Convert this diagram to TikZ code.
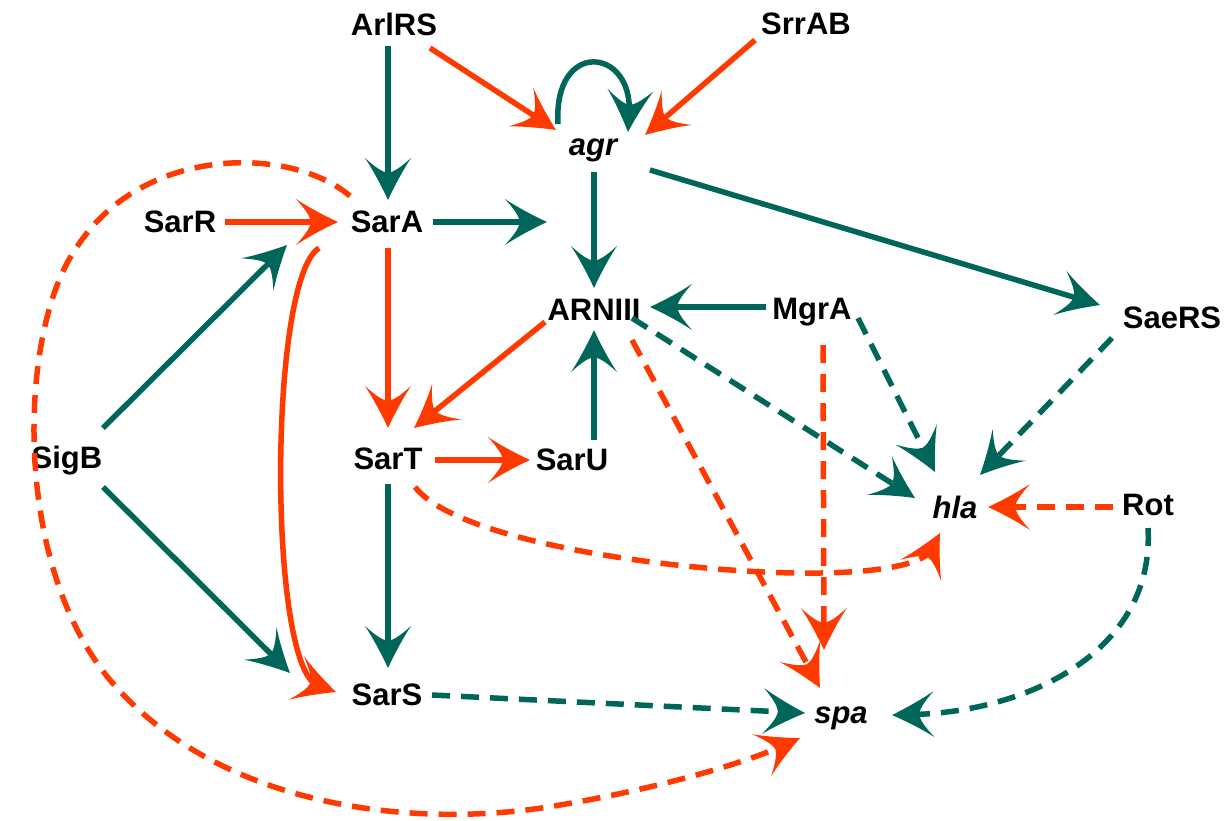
\documentclass[tikz,border=0pt]{standalone}
\usepackage{fontspec}
\setmainfont{Liberation Sans}
\usetikzlibrary{arrows.meta}
\definecolor{tealc}{RGB}{0,102,90}
\definecolor{orangec}{RGB}{255,58,0}
\pgfdeclarearrow{
  name=Curvy,
  setup code={
    \pgfarrowssettipend{0pt}
    \pgfarrowssetbackend{-42pt}
    \pgfarrowssetlineend{-19pt}
    \pgfarrowsupperhullpoint{0pt}{0pt}
    \pgfarrowsupperhullpoint{-42pt}{23pt}
  },
  drawing code={
    \pgfpathmoveto{\pgfqpoint{0pt}{0pt}}
    \pgfpathcurveto{\pgfqpoint{-14pt}{6.5pt}}{\pgfqpoint{-30pt}{15pt}}{\pgfqpoint{-42pt}{23pt}}
    \pgfpathcurveto{\pgfqpoint{-33pt}{13pt}}{\pgfqpoint{-28pt}{6pt}}{\pgfqpoint{-27pt}{0pt}}
    \pgfpathcurveto{\pgfqpoint{-28pt}{-6pt}}{\pgfqpoint{-33pt}{-13pt}}{\pgfqpoint{-42pt}{-23pt}}
    \pgfpathcurveto{\pgfqpoint{-30pt}{-15pt}}{\pgfqpoint{-14pt}{-6.5pt}}{\pgfqpoint{0pt}{0pt}}
    \pgfpathclose
    \pgfusepathqfill
  }
}
\begin{document}
\begin{tikzpicture}[x=1pt,y=-1pt,
  lbl/.style={font=\fontsize{31}{37}\selectfont\bfseries, inner sep=0pt, outer sep=0pt, anchor=base},
  ilbl/.style={lbl, font=\fontsize{31}{37}\selectfont\bfseries\itshape},
  tipa/.style={-{Curvy}},
  tl/.style={draw=tealc, line width=5.5pt, tipa},
  ol/.style={draw=orangec, line width=5.5pt, tipa},
  dsh/.style={dash pattern=on 18pt off 11pt}
]
\useasboundingbox[fill=white] (0,0) rectangle (1232,820);

% nodes
\node[lbl] (ArlRS) at (394,35) {ArlRS};
\node[lbl] (SrrAB) at (806,34) {SrrAB};
\node[ilbl] (agr) at (593,155) {agr};
\node[lbl] (SarR) at (180,232) {SarR};
\node[lbl] (SarA) at (387,232) {SarA};
\node[lbl] (ARN) at (594,320) {ARNIII};
\node[lbl] (MgrA) at (812,319) {MgrA};
\node[lbl] (SaeRS) at (1172,328) {SaeRS};
\node[lbl] (SigB) at (67,468) {SigB};
\node[lbl] (SarT) at (388,469) {SarT};
\node[lbl] (SarU) at (572,470) {SarU};
\node[ilbl] (hla) at (955,518) {hla};
\node[lbl] (Rot) at (1148,515) {Rot};
\node[lbl] (SarS) at (387,705) {SarS};
\node[ilbl] (spa) at (841,723) {spa};
\coordinate (sarAout) at (547,222);

% solid teal
\draw[tl] ([shift={(-6,11)}]ArlRS.base) -- ([shift={(1,-32)}]SarA.base);
\draw[tl] ([shift={(-35,-31)}]agr.base) .. controls +(-5,-85) and +(5,-85) .. ([shift={(35,-23)}]agr.base);
\draw[tl] ([shift={(1,17)}]agr.base) -- ([shift={(0,-32)}]ARN.base);
\draw[tl] ([shift={(46,-10)}]SarA.base) -- (sarAout);
\draw[tl] ([shift={(57,15)}]agr.base) -- ([shift={(-72,-23)}]SaeRS.base);
\draw[tl] ([shift={(36,-40)}]SigB.base) -- ([shift={(-100,13)}]SarA.base);
\draw[tl] ([shift={(-46,-12)}]MgrA.base) -- ([shift={(56,-13)}]ARN.base);
\draw[tl] ([shift={(22,-30)}]SarU.base) -- ([shift={(0,10)}]ARN.base);
\draw[tl] ([shift={(0,15)}]SarT.base) -- ([shift={(1,-37)}]SarS.base);
\draw[tl] ([shift={(36,19)}]SigB.base) -- ([shift={(-97,-32)}]SarS.base);

% solid orange
\draw[ol] ([shift={(36,13)}]ArlRS.base) -- ([shift={(-37,-25)}]agr.base);
\draw[ol] ([shift={(-51,6)}]SrrAB.base) -- ([shift={(52,-20)}]agr.base);
\draw[ol] ([shift={(45,-10)}]SarR.base) -- ([shift={(-49,-10)}]SarA.base);
\draw[ol] ([shift={(1,16)}]SarA.base) -- ([shift={(0,-41)}]SarT.base);
\draw[ol] ([shift={(-49,2)}]ARN.base) -- ([shift={(26,-41)}]SarT.base);
\draw[ol] ([shift={(47,-9)}]SarT.base) -- ([shift={(-42,-10)}]SarU.base);
\draw[ol] ([shift={(-68,16)}]SarA.base) .. controls (268,280) and (268,668) .. ([shift={(-51,-13)}]SarS.base);

% dashed teal
\draw[tl,dsh] ([shift={(46,-1)}]MgrA.base) -- ([shift={(-20,-46)}]hla.base);
\draw[tl,dsh] ([shift={(38,-2)}]ARN.base) -- ([shift={(-40,-20)}]hla.base);
\draw[tl,dsh] ([shift={(-60,10)}]SaeRS.base) -- ([shift={(25,-43)}]hla.base);
\draw[tl,dsh] ([shift={(45,-10)}]SarS.base) -- ([shift={(-36,-10)}]spa.base);
\draw[tl,dsh] ([shift={(0,13)}]Rot.base) .. controls (1155,650) and (1030,712) .. ([shift={(51,-8)}]spa.base);

% dashed orange
\draw[ol,dsh] ([shift={(-35,-8)}]Rot.base) -- ([shift={(33,-11)}]hla.base);
\draw[ol,dsh] ([shift={(38,20)}]ARN.base) -- ([shift={(-21,-35)}]spa.base);
\draw[ol,dsh] ([shift={(11,26)}]MgrA.base) -- ([shift={(-17,-73)}]spa.base);
\draw[ol,dsh] ([shift={(27,18)}]SarT.base) .. controls (460,545) and (700,575) .. (820,573) .. controls (890,572) and (925,562) .. ([shift={(-15,15)}]hla.base);
\draw[ol,dsh] ([shift={(-37,-36)}]SarA.base) .. controls (290,145) and (140,145) .. (75,250) .. controls (20,330) and (10,560) .. (110,680) .. controls (220,810) and (420,830) .. (560,805) .. controls (650,790) and (740,765) .. ([shift={(-41,15)}]spa.base);
\end{tikzpicture}
\end{document}
